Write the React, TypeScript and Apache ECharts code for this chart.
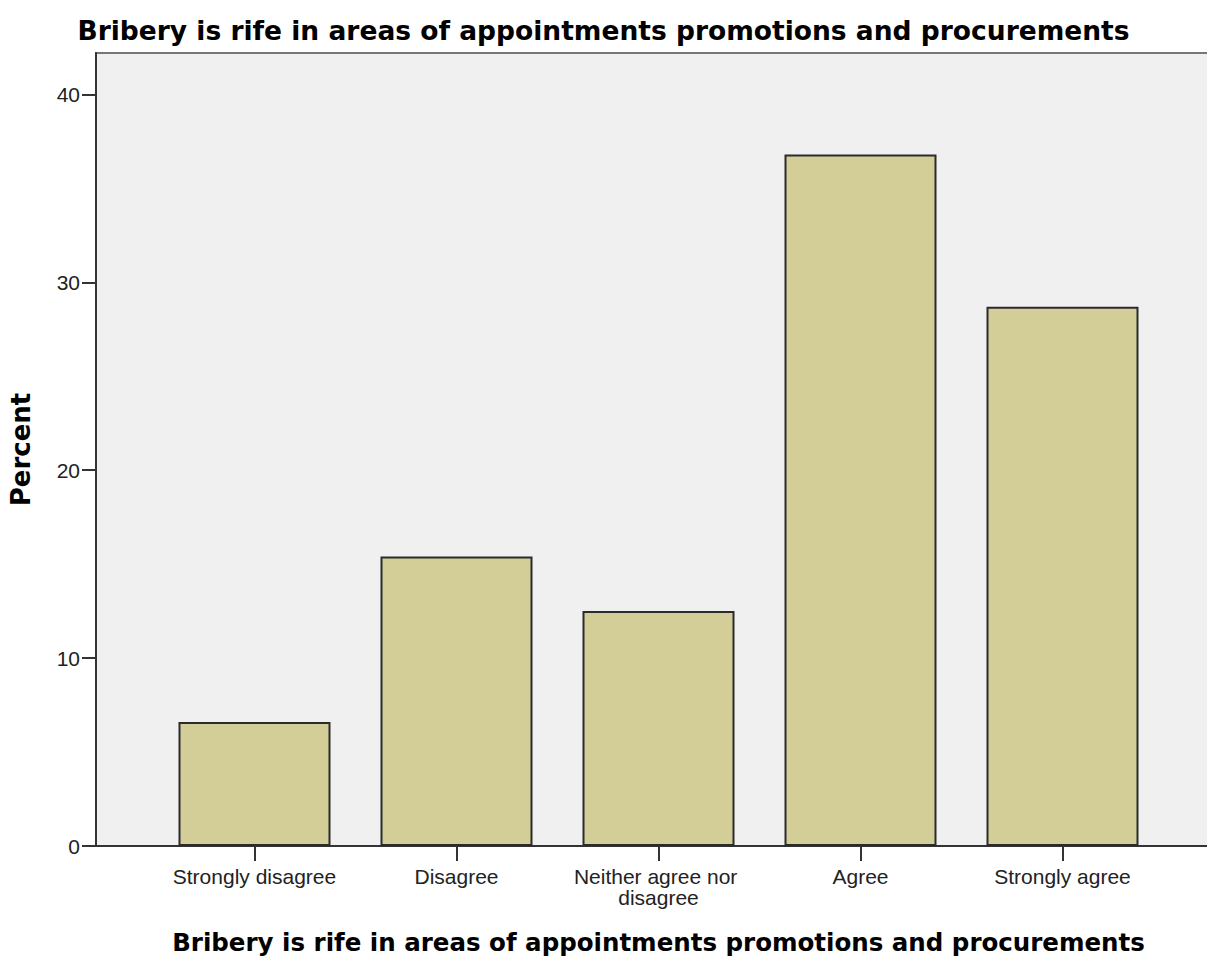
import React, { useEffect, useRef } from "react";
import * as echarts from "echarts";

const chartTitle = "Bribery is rife in areas of appointments promotions and procurements";
const xAxisTitle = "Bribery is rife in areas of appointments promotions and procurements";
const yAxisTitle = "Percent";
const categories = ["Strongly disagree", "Disagree", "Neither agree nor disagree", "Agree", "Strongly agree"];
const percents = [6.6, 15.4, 12.5, 36.8, 28.7];
const yTicks = [0, 10, 20, 30, 40];
const yMax = 42.2;

const LABEL_FONT = "'Liberation Sans', Arial, sans-serif";
const TITLE_FONT = "'DejaVu Sans', sans-serif";

export default function App() {
  const ref = useRef<HTMLDivElement>(null);
  useEffect(() => {
    document.body.style.margin = "0";
    if (!ref.current) return;
    const chart = echarts.init(ref.current, undefined, { renderer: "svg" });
    chart.setOption({
      animation: false,
      backgroundColor: "#ffffff",
      title: {
        text: chartTitle,
        left: "center",
        top: 17.5,
        padding: 0,
        textStyle: {
          fontFamily: TITLE_FONT,
          fontWeight: "bold",
          fontSize: 26.5,
          lineHeight: 26.5,
          color: "#000",
        },
      },
      grid: [
        {
          left: 96,
          right: -14,
          top: 53,
          bottom: 112,
          containLabel: false,
          outerBoundsMode: "none",
          show: true,
          backgroundColor: "#f0f0f0",
          borderColor: "#777777",
          borderWidth: 2,
        },
        {
          left: 153.5,
          right: 43.5,
          top: 53,
          bottom: 112,
          containLabel: false,
          outerBoundsMode: "none",
        },
      ],
      xAxis: [
        {
          gridIndex: 0,
          type: "value",
          min: 0,
          max: 1,
          axisLine: { show: true, onZero: false, lineStyle: { color: "#333", width: 2 } },
          axisTick: { show: false },
          axisLabel: { show: false },
          splitLine: { show: false },
        },
        {
          gridIndex: 1,
          type: "category",
          data: categories,
          boundaryGap: true,
          axisLine: { show: false },
          axisTick: {
            show: true,
            alignWithLabel: true,
            length: 15,
            lineStyle: { color: "#333", width: 2 },
          },
          axisLabel: {
            interval: 0,
            margin: 19.5,
            color: "#222",
            fontFamily: LABEL_FONT,
            fontSize: 21,
            lineHeight: 21,
            width: 195,
            overflow: "break",
          },
          name: xAxisTitle,
          nameLocation: "middle",
          nameGap: 84.5,
          nameTextStyle: {
            fontFamily: TITLE_FONT,
            fontWeight: "bold",
            fontSize: 24.5,
            lineHeight: 24.5,
            color: "#000",
            padding: 0,
          },
        },
      ],
      yAxis: [
        {
          gridIndex: 0,
          type: "value",
          min: 0,
          max: yMax,
          interval: 10,
          axisLine: { show: true, lineStyle: { color: "#333", width: 2 } },
          axisTick: {
            show: true,
            length: 14,
            customValues: yTicks,
            lineStyle: { color: "#333", width: 2 },
          },
          axisLabel: {
            customValues: yTicks,
            margin: 16,
            color: "#222",
            fontFamily: LABEL_FONT,
            fontSize: 21,
          },
          splitLine: { show: false },
          name: yAxisTitle,
          nameLocation: "middle",
          nameGap: 62,
          nameTextStyle: {
            fontFamily: TITLE_FONT,
            fontWeight: "bold",
            fontSize: 26,
            lineHeight: 26,
            color: "#000",
            padding: 0,
          },
        },
        {
          gridIndex: 1,
          type: "value",
          min: 0,
          max: yMax,
          show: false,
          splitLine: { show: false },
        },
      ],
      series: [
        {
          type: "bar",
          xAxisIndex: 1,
          yAxisIndex: 1,
          data: percents,
          barWidth: 152,
          itemStyle: {
            color: "#d3ce97",
            borderColor: "#2b2b2b",
            borderWidth: 2,
          },
        },
      ],
    });
    return () => chart.dispose();
  }, []);
  return (
    <div
      ref={ref}
      style={{ position: "absolute", left: 0, top: 0, width: 1207, height: 958 }}
    />
  );
}
